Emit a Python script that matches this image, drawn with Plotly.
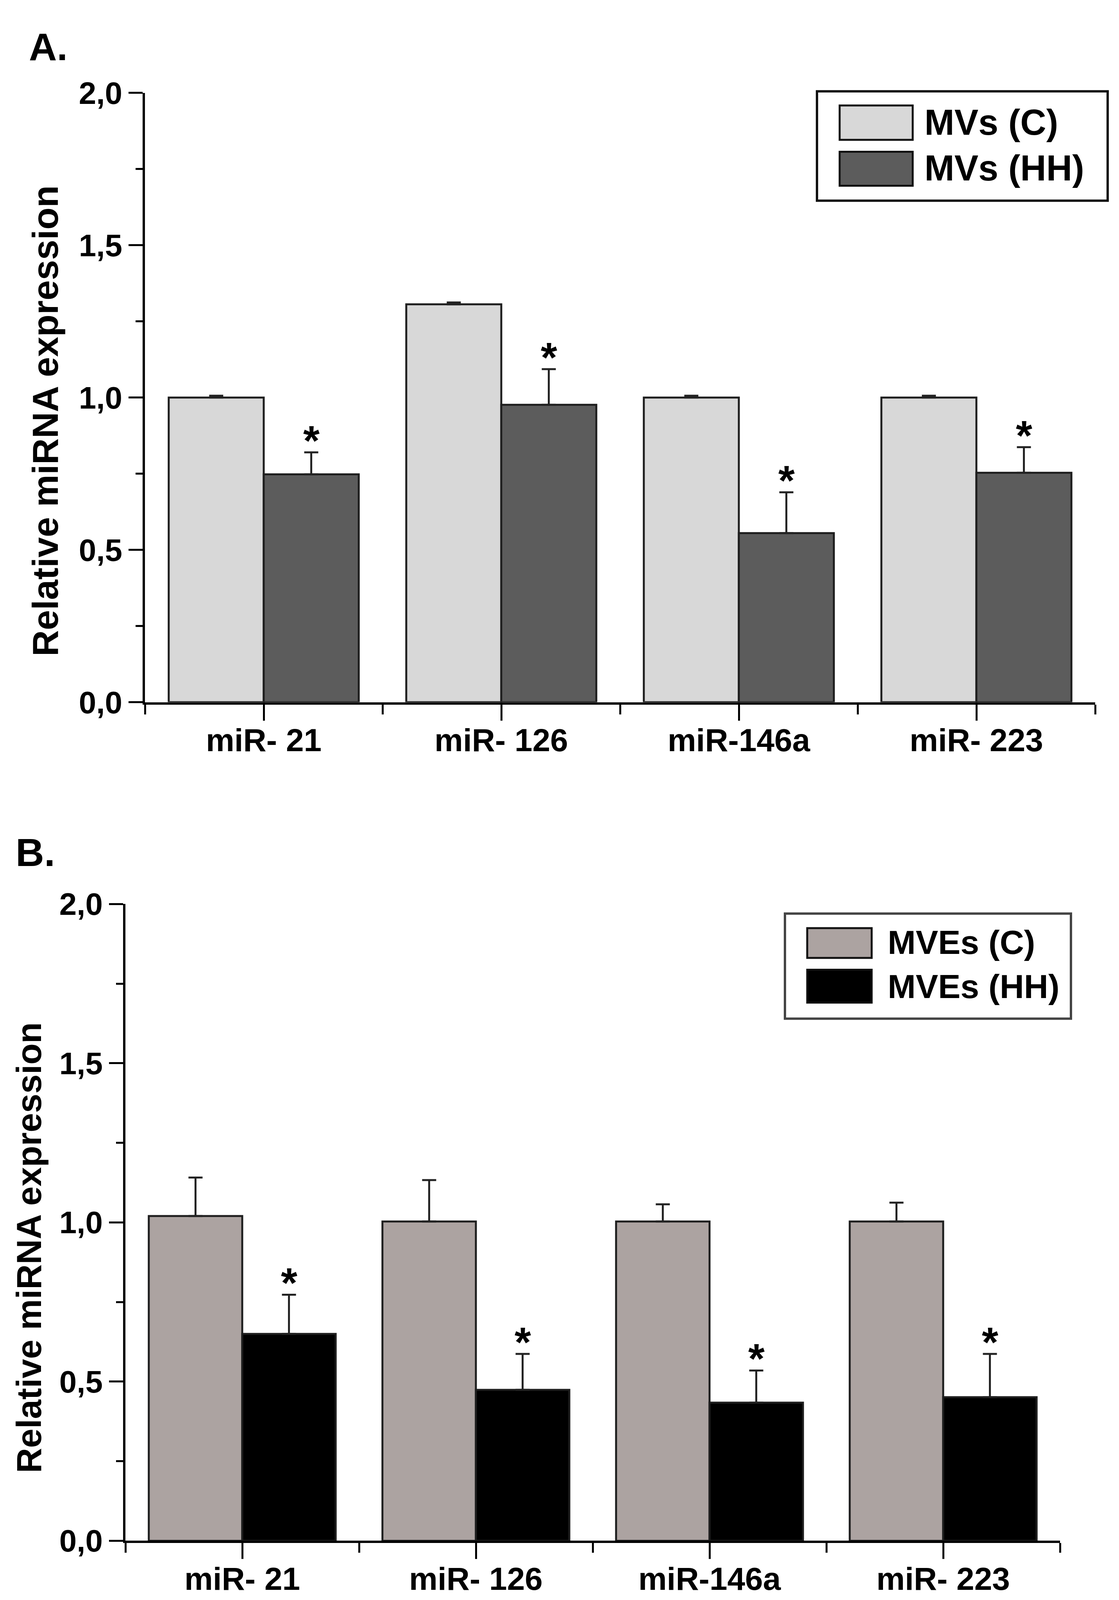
import plotly.graph_objects as go

# ---------------- data ----------------
categories = ["miR- 21", "miR- 126", "miR-146a", "miR- 223"]

series_A = ["MVs (C)", "MVs (HH)"]
a_control = [1.00, 1.306, 1.00, 1.00]
a_control_err = [0.006, 0.006, 0.006, 0.006]
a_hh = [0.748, 0.976, 0.555, 0.753]
a_hh_err = [0.072, 0.117, 0.134, 0.084]
a_sig = ["*", "*", "*", "*"]

series_B = ["MVEs (C)", "MVEs (HH)"]
b_control = [1.020, 1.003, 1.003, 1.003]
b_control_err = [0.121, 0.130, 0.054, 0.059]
b_hh = [0.650, 0.474, 0.434, 0.451]
b_hh_err = [0.123, 0.113, 0.101, 0.136]
b_sig = ["*", "*", "*", "*"]

y_tickvals = [0, 0.5, 1.0, 1.5, 2.0]
y_ticktext = ["0,0", "0,5", "1,0", "1,5", "2,0"]
y_minor = [0.25, 0.75, 1.25, 1.75]
y_title = "Relative miRNA expression"
panel_labels = ["A.", "B."]

# ---------------- style ----------------
W, H = 2864, 4149
FONT = "Liberation Sans, Arial, sans-serif"
BARGAP = 0.2
colors_A = ["#d8d8d8", "#5c5c5c"]
colors_B = ["#aca3a1", "#000000"]
xs = list(range(len(categories)))
x_minor = [i - 0.5 for i in range(len(categories) + 1)]


def px(x):
    return x / W


def py(y):
    return 1 - y / H


fig = go.Figure()


def add_panel(xa, ya, names, ctrl, ctrl_err, hh, hh_err, cols):
    for name, vals, errs, col in [(names[0], ctrl, ctrl_err, cols[0]),
                                  (names[1], hh, hh_err, cols[1])]:
        fig.add_trace(go.Bar(
            x=xs, y=vals, name=name, xaxis=xa, yaxis=ya,
            marker=dict(color=col, line=dict(color="#1e1e1e", width=5)),
            error_y=dict(type="data", symmetric=False, array=errs,
                         arrayminus=[0] * len(errs), thickness=5, width=18,
                         color="#222222"),
            showlegend=False,
        ))


add_panel("x", "y", series_A, a_control, a_control_err, a_hh, a_hh_err, colors_A)
add_panel("x2", "y2", series_B, b_control, b_control_err, b_hh, b_hh_err, colors_B)

xcommon = dict(
    range=[-0.5, 3.5], tickmode="array", tickvals=xs, ticktext=categories,
    ticks="outside", ticklen=41, tickwidth=5, tickcolor="black",
    minor=dict(tickmode="array", tickvals=x_minor, ticks="outside",
               ticklen=25, tickwidth=5, tickcolor="black"),
    showline=True, linewidth=6, linecolor="black", showgrid=False,
    zeroline=False, tickfont=dict(family=FONT, size=82, color="black",
                                  weight="bold"),
    ticklabelstandoff=-20,
    fixedrange=True,
)
ycommon = dict(
    range=[0, 2.0], tickmode="array", tickvals=y_tickvals, ticktext=y_ticktext,
    ticks="outside", ticklen=36, tickwidth=5, tickcolor="black",
    minor=dict(tickmode="array", tickvals=y_minor, ticks="outside",
               ticklen=18, tickwidth=5, tickcolor="black"),
    showline=True, linewidth=6, linecolor="black", showgrid=False,
    zeroline=False, tickfont=dict(family=FONT, size=80, color="black",
                                  weight="bold"),
    fixedrange=True,
)

fig.update_layout(
    width=W, height=H, margin=dict(l=0, r=0, t=0, b=0),
    paper_bgcolor="white", plot_bgcolor="white",
    barmode="group", bargap=BARGAP, bargroupgap=0,
    xaxis=dict(domain=[px(371), px(2803)], anchor="y", **xcommon),
    yaxis=dict(domain=[py(1792), py(198)], anchor="x", **ycommon),
    xaxis2=dict(domain=[px(321), px(2713)], anchor="y2", **xcommon),
    yaxis2=dict(domain=[py(3986), py(2320)], anchor="x2", **ycommon),
)

ann = []
# significance stars above HH bars
offset = (1 - BARGAP) / 4
for xa, ya, hh, hh_err, sig in [("x", "y", a_hh, a_hh_err, a_sig),
                                ("x2", "y2", b_hh, b_hh_err, b_sig)]:
    for i, (v, e, s) in enumerate(zip(hh, hh_err, sig)):
        ann.append(dict(x=i + offset, y=v + e, xref=xa, yref=ya, text=s,
                        showarrow=False, yanchor="bottom", xanchor="center",
                        yshift=-32,
                        font=dict(family=FONT, size=108, color="black",
                                  weight="bold")))

# panel letters
ann.append(dict(x=px(72), y=py(77), xref="paper", yref="paper",
                text=panel_labels[0], showarrow=False, xanchor="left",
                yanchor="middle",
                font=dict(family=FONT, size=99, color="black", weight="bold")))
ann.append(dict(x=px(38), y=py(2185), xref="paper", yref="paper",
                text=panel_labels[1], showarrow=False, xanchor="left",
                yanchor="middle",
                font=dict(family=FONT, size=101, color="black", weight="bold")))

# y titles
ann.append(dict(x=px(116), y=py(1056), xref="paper", yref="paper",
                text=y_title, textangle=-90, showarrow=False,
                xanchor="center", yanchor="middle",
                font=dict(family=FONT, size=93, color="black", weight="bold")))
ann.append(dict(x=px(74), y=py(3219), xref="paper", yref="paper",
                text=y_title, textangle=-90, showarrow=False,
                xanchor="center", yanchor="middle",
                font=dict(family=FONT, size=89, color="black", weight="bold")))

shapes = []


def legend(box, swatches, text_x, text_y, names, cols, fsize, boxcol):
    shapes.append(dict(type="rect", xref="paper", yref="paper",
                       x0=px(box[0]), x1=px(box[2]), y0=py(box[3]), y1=py(box[1]),
                       line=dict(color=boxcol, width=6), fillcolor="white",
                       layer="above"))
    for (x0, y0, x1, y1), col, name, ty in zip(swatches, cols, names, text_y):
        shapes.append(dict(type="rect", xref="paper", yref="paper",
                           x0=px(x0), x1=px(x1), y0=py(y1), y1=py(y0),
                           line=dict(color="#111111", width=5), fillcolor=col,
                           layer="above"))
        ann.append(dict(x=px(text_x), y=py(ty), xref="paper", yref="paper",
                        text=name, showarrow=False, xanchor="left",
                        yanchor="middle",
                        font=dict(family=FONT, size=fsize, color="black",
                                  weight="bold")))


legend((2091, 194, 2835, 480),
       [(2149, 231, 2336, 321), (2149, 352, 2336, 441)],
       2364, [275, 394], series_A, colors_A, 92, "#111111")
legend((2009, 2345, 2741, 2620),
       [(2066, 2383, 2231, 2461), (2066, 2492, 2231, 2578)],
       2270, [2420, 2535], series_B, colors_B, 86, "#444444")

fig.update_layout(annotations=ann, shapes=shapes)

fig.write_html("out.html",
               config={"displayModeBar": False},
               post_script="document.body.style.margin='0';"
                           "document.body.style.overflow='hidden';")
